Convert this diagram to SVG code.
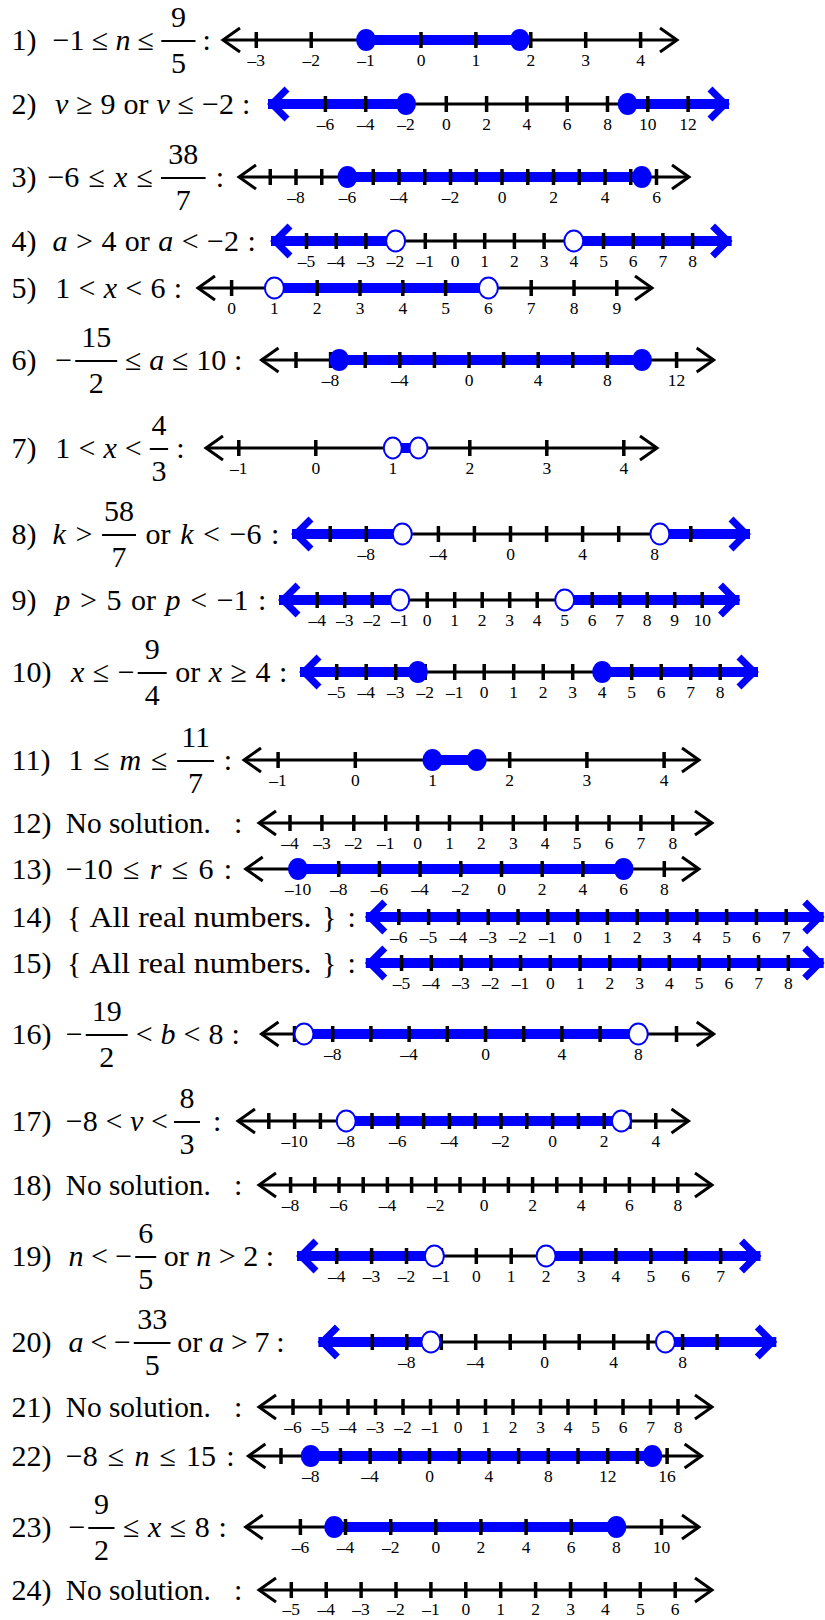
<svg xmlns="http://www.w3.org/2000/svg" width="825" height="1620" viewBox="0 0 825 1620" font-family="Liberation Serif, DejaVu Serif, serif">
<style>
.t{font-family:'Liberation Serif','DejaVu Serif',serif;font-size:30px;fill:#000}
.i{font-style:italic}
.m{text-anchor:middle}
.lb{font-family:'Liberation Serif','DejaVu Serif',serif;font-size:17.5px;fill:#000;text-anchor:middle}
.ax{stroke:#000;stroke-width:3;fill:none}
.tk{stroke:#000;stroke-width:3.5;fill:none}
.ah{stroke:#000;stroke-width:3;fill:none}
.bl{stroke:#0000ff;stroke-width:10;fill:none}
.ba{stroke:#0000ff;stroke-width:7;fill:none;stroke-linejoin:miter}
.cd{fill:#0000ff}
.od{fill:#fff;stroke:#0000ff;stroke-width:2}
.fb{stroke:#000;stroke-width:2}
</style>
<rect width="825" height="1620" fill="#fff"/>

<g id="row1">
<text class="t" y="50"><tspan x="11.6">1)</tspan><tspan x="52.6">−1</tspan><tspan x="91.7">≤</tspan><tspan x="115.4" class="i">n</tspan><tspan x="137.6">≤</tspan><tspan x="202.6">:</tspan></text>
<line class="fb" x1="161.3" y1="41" x2="195.5" y2="41"/><text class="t m" x="178.4" y="27">9</text><text class="t m" x="178.4" y="73">5</text>
<path class="ax" d="M223 40H677"/>
<path class="bl" d="M366.1 40H519.8"/>
<path class="ah" d="M240 28L223 40L240 52M660 28L677 40L660 52"/>
<path class="tk" d="M256.3 32v16M311.2 32v16M366.1 32v16M421 32v16M475.9 32v16M530.8 32v16M585.7 32v16M640.6 32v16"/>
<ellipse class="cd" cx="366.1" cy="40" rx="10" ry="11"/><ellipse class="cd" cx="519.8" cy="40" rx="10" ry="11"/>
<text class="lb" y="66"><tspan x="256.3">–3</tspan><tspan x="311.2">–2</tspan><tspan x="366.1">–1</tspan><tspan x="421">0</tspan><tspan x="475.9">1</tspan><tspan x="530.8">2</tspan><tspan x="585.7">3</tspan><tspan x="640.6">4</tspan></text>
</g>

<g id="row2">
<text class="t" y="114"><tspan x="11.6">2)</tspan><tspan x="55" class="i">v</tspan><tspan x="76.2">≥</tspan><tspan x="100.6">9</tspan><tspan x="123.5">or</tspan><tspan x="156.4" class="i">v</tspan><tspan x="177.6">≤</tspan><tspan x="202">−2</tspan><tspan x="242">:</tspan></text>
<path class="ax" d="M269 104H728"/>
<path class="bl" d="M268 104H406M627.65 104H729"/>
<polyline class="ba" points="287,89 272,104 287,119"/><polyline class="ba" points="710,89 725,104 710,119"/>
<path class="tk" d="M325.4 96v16M365.7 96v16M406 96v16M446.3 96v16M486.6 96v16M526.9 96v16M567.2 96v16M607.5 96v16M647.8 96v16M688.1 96v16"/>
<ellipse class="cd" cx="406" cy="104" rx="10" ry="11"/><ellipse class="cd" cx="627.65" cy="104" rx="10" ry="11"/>
<text class="lb" y="130"><tspan x="325.4">–6</tspan><tspan x="365.7">–4</tspan><tspan x="406">–2</tspan><tspan x="446.3">0</tspan><tspan x="486.6">2</tspan><tspan x="526.9">4</tspan><tspan x="567.2">6</tspan><tspan x="607.5">8</tspan><tspan x="647.8">10</tspan><tspan x="688.1">12</tspan></text>
</g>

<g id="row3">
<text class="t" y="187"><tspan x="11.6">3)</tspan><tspan x="47.4">−6</tspan><tspan x="88.4">≤</tspan><tspan x="114" class="i">x</tspan><tspan x="136.4">≤</tspan><tspan x="215.8">:</tspan></text>
<line class="fb" x1="161" y1="178" x2="205.6" y2="178"/><text class="t m" x="183.3" y="164">38</text><text class="t m" x="183.3" y="210">7</text>
<path class="ax" d="M239 177H689"/>
<path class="bl" d="M347.5 177H641.8"/>
<path class="ah" d="M256 165L239 177L256 189M672 165L689 177L672 189"/>
<path class="tk" d="M270.25 169v16M296 169v16M321.75 169v16M347.5 169v16M373.25 169v16M399 169v16M424.75 169v16M450.5 169v16M476.25 169v16M502 169v16M527.75 169v16M553.5 169v16M579.25 169v16M605 169v16M630.75 169v16M656.5 169v16"/>
<ellipse class="cd" cx="347.5" cy="177" rx="10" ry="11"/><ellipse class="cd" cx="641.8" cy="177" rx="10" ry="11"/>
<text class="lb" y="203"><tspan x="296">–8</tspan><tspan x="347.5">–6</tspan><tspan x="399">–4</tspan><tspan x="450.5">–2</tspan><tspan x="502">0</tspan><tspan x="553.5">2</tspan><tspan x="605">4</tspan><tspan x="656.5">6</tspan></text>
</g>

<g id="row4">
<text class="t" y="251"><tspan x="11.6">4)</tspan><tspan x="52.6" class="i">a</tspan><tspan x="76">&gt;</tspan><tspan x="101.4">4</tspan><tspan x="124.8">or</tspan><tspan x="158.2" class="i">a</tspan><tspan x="181.7">&lt;</tspan><tspan x="207">−2</tspan><tspan x="247.4">:</tspan></text>
<path class="ax" d="M272 241H731"/>
<path class="bl" d="M271 241H395.6M573.8 241H731.6"/>
<polyline class="ba" points="290,226 275,241 290,256"/><polyline class="ba" points="712.6,226 727.6,241 712.6,256"/>
<path class="tk" d="M306.5 233v16M336.2 233v16M365.9 233v16M395.6 233v16M425.3 233v16M455 233v16M484.7 233v16M514.4 233v16M544.1 233v16M573.8 233v16M603.5 233v16M633.2 233v16M662.9 233v16M692.6 233v16"/>
<ellipse class="od" cx="395.6" cy="241" rx="9.5" ry="10.5"/><ellipse class="od" cx="573.8" cy="241" rx="9.5" ry="10.5"/>
<text class="lb" y="267"><tspan x="306.5">–5</tspan><tspan x="336.2">–4</tspan><tspan x="365.9">–3</tspan><tspan x="395.6">–2</tspan><tspan x="425.3">–1</tspan><tspan x="455">0</tspan><tspan x="484.7">1</tspan><tspan x="514.4">2</tspan><tspan x="544.1">3</tspan><tspan x="573.8">4</tspan><tspan x="603.5">5</tspan><tspan x="633.2">6</tspan><tspan x="662.9">7</tspan><tspan x="692.6">8</tspan></text>
</g>

<g id="row5">
<text class="t" y="298"><tspan x="11.6">5)</tspan><tspan x="55.3">1</tspan><tspan x="78.6">&lt;</tspan><tspan x="103.7" class="i">x</tspan><tspan x="125.3">&lt;</tspan><tspan x="150.5">6</tspan><tspan x="173.7">:</tspan></text>
<path class="ax" d="M198 288H652"/>
<path class="bl" d="M274.4 288H488.4"/>
<path class="ah" d="M215 276L198 288L215 300M635 276L652 288L635 300"/>
<path class="tk" d="M231.6 280v16M274.4 280v16M317.2 280v16M360 280v16M402.8 280v16M445.6 280v16M488.4 280v16M531.2 280v16M574 280v16M616.8 280v16"/>
<ellipse class="od" cx="274.4" cy="288" rx="9.5" ry="10.5"/><ellipse class="od" cx="488.4" cy="288" rx="9.5" ry="10.5"/>
<text class="lb" y="314"><tspan x="231.6">0</tspan><tspan x="274.4">1</tspan><tspan x="317.2">2</tspan><tspan x="360">3</tspan><tspan x="402.8">4</tspan><tspan x="445.6">5</tspan><tspan x="488.4">6</tspan><tspan x="531.2">7</tspan><tspan x="574">8</tspan><tspan x="616.8">9</tspan></text>
</g>

<g id="row6">
<text class="t" y="370"><tspan x="11.6">6)</tspan><tspan x="55.3">−</tspan><tspan x="125">≤</tspan><tspan x="149.2" class="i">a</tspan><tspan x="172">≤</tspan><tspan x="196.3">10</tspan><tspan x="234">:</tspan></text>
<line class="fb" x1="75.2" y1="361" x2="117.2" y2="361"/><text class="t m" x="96.2" y="347">15</text><text class="t m" x="96.2" y="393">2</text>
<path class="ax" d="M261.5 360H713.7"/>
<path class="bl" d="M339.25 360H642"/>
<path class="ah" d="M278.5 348L261.5 360L278.5 372M696.7 348L713.7 360L696.7 372"/>
<path class="tk" d="M296 352v16M330.6 352v16M365.2 352v16M399.8 352v16M434.4 352v16M469 352v16M503.6 352v16M538.2 352v16M572.8 352v16M607.4 352v16M642 352v16M676.6 352v16"/>
<ellipse class="cd" cx="339.25" cy="360" rx="10" ry="11"/><ellipse class="cd" cx="642" cy="360" rx="10" ry="11"/>
<text class="lb" y="386"><tspan x="330.6">–8</tspan><tspan x="399.8">–4</tspan><tspan x="469">0</tspan><tspan x="538.2">4</tspan><tspan x="607.4">8</tspan><tspan x="676.6">12</tspan></text>
</g>

<g id="row7">
<text class="t" y="458"><tspan x="11.6">7)</tspan><tspan x="55.3">1</tspan><tspan x="78.4">&lt;</tspan><tspan x="103.4" class="i">x</tspan><tspan x="124.8">&lt;</tspan><tspan x="176.3">:</tspan></text>
<line class="fb" x1="149.8" y1="449" x2="168.1" y2="449"/><text class="t m" x="159" y="435">4</text><text class="t m" x="159" y="481">3</text>
<path class="ax" d="M206 448H657"/>
<path class="bl" d="M392.8 448H418.5"/>
<path class="ah" d="M223 436L206 448L223 460M640 436L657 448L640 460"/>
<path class="tk" d="M238.8 440v16M315.8 440v16M392.8 440v16M469.8 440v16M546.8 440v16M623.8 440v16"/>
<ellipse class="od" cx="392.8" cy="448" rx="9" ry="10.5"/><ellipse class="od" cx="418.5" cy="448" rx="9" ry="10.5"/>
<text class="lb" y="474"><tspan x="238.8">–1</tspan><tspan x="315.8">0</tspan><tspan x="392.8">1</tspan><tspan x="469.8">2</tspan><tspan x="546.8">3</tspan><tspan x="623.8">4</tspan></text>
</g>

<g id="row8">
<text class="t" y="544"><tspan x="11.6">8)</tspan><tspan x="52.6" class="i">k</tspan><tspan x="75.5">&gt;</tspan><tspan x="145.6">or</tspan><tspan x="180.2" class="i">k</tspan><tspan x="203.1">&lt;</tspan><tspan x="229.6">−6</tspan><tspan x="271">:</tspan></text>
<line class="fb" x1="102" y1="535" x2="136" y2="535"/><text class="t m" x="119" y="521">58</text><text class="t m" x="119" y="567">7</text>
<path class="ax" d="M293 534H749"/>
<path class="bl" d="M292 534H402.3M659.9 534H750"/>
<polyline class="ba" points="311,519 296,534 311,549"/><polyline class="ba" points="731,519 746,534 731,549"/>
<path class="tk" d="M330.2 526v16M366.3 526v16M402.3 526v16M438.4 526v16M474.4 526v16M510.5 526v16M546.6 526v16M582.6 526v16M618.7 526v16M654.7 526v16M690.8 526v16"/>
<ellipse class="od" cx="402.3" cy="534" rx="9.5" ry="10.5"/><ellipse class="od" cx="659.9" cy="534" rx="9.5" ry="10.5"/>
<text class="lb" y="560"><tspan x="366.3">–8</tspan><tspan x="438.4">–4</tspan><tspan x="510.5">0</tspan><tspan x="582.6">4</tspan><tspan x="654.7">8</tspan></text>
</g>

<g id="row9">
<text class="t" y="610"><tspan x="11.6">9)</tspan><tspan x="55.3" class="i">p</tspan><tspan x="79.9">&gt;</tspan><tspan x="106.4">5</tspan><tspan x="131">or</tspan><tspan x="165.6" class="i">p</tspan><tspan x="190.2">&lt;</tspan><tspan x="216.7">−1</tspan><tspan x="258">:</tspan></text>
<path class="ax" d="M280 600H738.5"/>
<path class="bl" d="M279 600H399.7M564.7 600H739.5"/>
<polyline class="ba" points="298,585 283,600 298,615"/><polyline class="ba" points="720.5,585 735.5,600 720.5,615"/>
<path class="tk" d="M317.2 592v16M344.7 592v16M372.2 592v16M399.7 592v16M427.2 592v16M454.7 592v16M482.2 592v16M509.7 592v16M537.2 592v16M564.7 592v16M592.2 592v16M619.7 592v16M647.2 592v16M674.7 592v16M702.2 592v16"/>
<ellipse class="od" cx="399.7" cy="600" rx="9.5" ry="10.5"/><ellipse class="od" cx="564.7" cy="600" rx="9.5" ry="10.5"/>
<text class="lb" y="626"><tspan x="317.2">–4</tspan><tspan x="344.7">–3</tspan><tspan x="372.2">–2</tspan><tspan x="399.7">–1</tspan><tspan x="427.2">0</tspan><tspan x="454.7">1</tspan><tspan x="482.2">2</tspan><tspan x="509.7">3</tspan><tspan x="537.2">4</tspan><tspan x="564.7">5</tspan><tspan x="592.2">6</tspan><tspan x="619.7">7</tspan><tspan x="647.2">8</tspan><tspan x="674.7">9</tspan><tspan x="702.2">10</tspan></text>
</g>

<g id="row10">
<text class="t" y="682"><tspan x="11.6">10)</tspan><tspan x="71" class="i">x</tspan><tspan x="92.8">≤</tspan><tspan x="117.8">−</tspan><tspan x="175.2">or</tspan><tspan x="208.7" class="i">x</tspan><tspan x="230.5">≥</tspan><tspan x="255.5">4</tspan><tspan x="279">:</tspan></text>
<line class="fb" x1="137.7" y1="673" x2="166.7" y2="673"/><text class="t m" x="152.2" y="659">9</text><text class="t m" x="152.2" y="705">4</text>
<path class="ax" d="M301 672H757"/>
<path class="bl" d="M300 672H417.8M602.2 672H758"/>
<polyline class="ba" points="319,657 304,672 319,687"/><polyline class="ba" points="739,657 754,672 739,687"/>
<path class="tk" d="M336.7 664v16M366.2 664v16M395.7 664v16M425.2 664v16M454.7 664v16M484.2 664v16M513.7 664v16M543.2 664v16M572.7 664v16M602.2 664v16M631.7 664v16M661.2 664v16M690.7 664v16M720.2 664v16"/>
<ellipse class="cd" cx="417.8" cy="672" rx="10" ry="11"/><ellipse class="cd" cx="602.2" cy="672" rx="10" ry="11"/>
<text class="lb" y="698"><tspan x="336.7">–5</tspan><tspan x="366.2">–4</tspan><tspan x="395.7">–3</tspan><tspan x="425.2">–2</tspan><tspan x="454.7">–1</tspan><tspan x="484.2">0</tspan><tspan x="513.7">1</tspan><tspan x="543.2">2</tspan><tspan x="572.7">3</tspan><tspan x="602.2">4</tspan><tspan x="631.7">5</tspan><tspan x="661.2">6</tspan><tspan x="690.7">7</tspan><tspan x="720.2">8</tspan></text>
</g>

<g id="row11">
<text class="t" y="770"><tspan x="11.6">11)</tspan><tspan x="68.4">1</tspan><tspan x="93.2">≤</tspan><tspan x="119.4" class="i">m</tspan><tspan x="150.9">≤</tspan><tspan x="223.7">:</tspan></text>
<line class="fb" x1="177.2" y1="761" x2="214" y2="761"/><text class="t m" x="195.6" y="747">11</text><text class="t m" x="195.6" y="793">7</text>
<path class="ax" d="M244 760H699"/>
<path class="bl" d="M432.5 760H476.6"/>
<path class="ah" d="M261 748L244 760L261 772M682 748L699 760L682 772"/>
<path class="tk" d="M278.1 752v16M355.3 752v16M432.5 752v16M509.7 752v16M586.9 752v16M664.1 752v16"/>
<ellipse class="cd" cx="432.5" cy="760" rx="10" ry="11"/><ellipse class="cd" cx="476.6" cy="760" rx="10" ry="11"/>
<text class="lb" y="786"><tspan x="278.1">–1</tspan><tspan x="355.3">0</tspan><tspan x="432.5">1</tspan><tspan x="509.7">2</tspan><tspan x="586.9">3</tspan><tspan x="664.1">4</tspan></text>
</g>

<g id="row12">
<text class="t" y="833"><tspan x="11.6">12)</tspan></text><text class="t" x="65.8" y="833" textLength="145" lengthAdjust="spacingAndGlyphs">No solution.</text><text class="t" x="234" y="833">:</text>
<path class="ax" d="M259 823H712"/>
<path class="ah" d="M276 811L259 823L276 835M695 811L712 823L695 835"/>
<path class="tk" d="M290 815v16M321.9 815v16M353.8 815v16M385.7 815v16M417.6 815v16M449.5 815v16M481.4 815v16M513.3 815v16M545.2 815v16M577.1 815v16M609 815v16M640.9 815v16M672.8 815v16"/>
<text class="lb" y="849"><tspan x="290">–4</tspan><tspan x="321.9">–3</tspan><tspan x="353.8">–2</tspan><tspan x="385.7">–1</tspan><tspan x="417.6">0</tspan><tspan x="449.5">1</tspan><tspan x="481.4">2</tspan><tspan x="513.3">3</tspan><tspan x="545.2">4</tspan><tspan x="577.1">5</tspan><tspan x="609">6</tspan><tspan x="640.9">7</tspan><tspan x="672.8">8</tspan></text>
</g>

<g id="row13">
<text class="t" y="879"><tspan x="11.6">13)</tspan><tspan x="65.8">−10</tspan><tspan x="123">≤</tspan><tspan x="149.8" class="i">r</tspan><tspan x="171.7">≤</tspan><tspan x="198.5">6</tspan><tspan x="223.7">:</tspan></text>
<path class="ax" d="M245.7 869H699"/>
<path class="bl" d="M298 869H623.6"/>
<path class="ah" d="M262.7 857L245.7 869L262.7 881M682 857L699 869L682 881"/>
<path class="tk" d="M298 861v16M338.7 861v16M379.4 861v16M420.1 861v16M460.8 861v16M501.5 861v16M542.2 861v16M582.9 861v16M623.6 861v16M664.3 861v16"/>
<ellipse class="cd" cx="298" cy="869" rx="10" ry="11"/><ellipse class="cd" cx="623.6" cy="869" rx="10" ry="11"/>
<text class="lb" y="895"><tspan x="298">–10</tspan><tspan x="338.7">–8</tspan><tspan x="379.4">–6</tspan><tspan x="420.1">–4</tspan><tspan x="460.8">–2</tspan><tspan x="501.5">0</tspan><tspan x="542.2">2</tspan><tspan x="582.9">4</tspan><tspan x="623.6">6</tspan><tspan x="664.3">8</tspan></text>
</g>

<g id="row14">
<text class="t" y="927"><tspan x="11.6">14)</tspan><tspan x="67">{</tspan></text><text class="t" x="89.5" y="927" textLength="222" lengthAdjust="spacingAndGlyphs">All real numbers.</text><text class="t" y="927"><tspan x="322">}</tspan><tspan x="347.4">:</tspan></text>
<path class="bl" d="M365.8 917H823.7"/>
<polyline class="ba" points="384.8,902 369.8,917 384.8,932"/><polyline class="ba" points="804.7,902 819.7,917 804.7,932"/>
<path class="tk" d="M398.8 909v16M428.6 909v16M458.4 909v16M488.2 909v16M518 909v16M547.8 909v16M577.6 909v16M607.4 909v16M637.2 909v16M667 909v16M696.8 909v16M726.6 909v16M756.4 909v16M786.2 909v16"/>
<text class="lb" y="943"><tspan x="398.8">–6</tspan><tspan x="428.6">–5</tspan><tspan x="458.4">–4</tspan><tspan x="488.2">–3</tspan><tspan x="518">–2</tspan><tspan x="547.8">–1</tspan><tspan x="577.6">0</tspan><tspan x="607.4">1</tspan><tspan x="637.2">2</tspan><tspan x="667">3</tspan><tspan x="696.8">4</tspan><tspan x="726.6">5</tspan><tspan x="756.4">6</tspan><tspan x="786.2">7</tspan></text>
</g>

<g id="row15">
<text class="t" y="973"><tspan x="11.6">15)</tspan><tspan x="67">{</tspan></text><text class="t" x="89.5" y="973" textLength="222" lengthAdjust="spacingAndGlyphs">All real numbers.</text><text class="t" y="973"><tspan x="322">}</tspan><tspan x="347.4">:</tspan></text>
<path class="bl" d="M365.8 963H823.7"/>
<polyline class="ba" points="384.8,948 369.8,963 384.8,978"/><polyline class="ba" points="804.7,948 819.7,963 804.7,978"/>
<path class="tk" d="M401.55 955v16M431.3 955v16M461.05 955v16M490.8 955v16M520.55 955v16M550.3 955v16M580.05 955v16M609.8 955v16M639.55 955v16M669.3 955v16M699.05 955v16M728.8 955v16M758.55 955v16M788.3 955v16"/>
<text class="lb" y="989"><tspan x="401.55">–5</tspan><tspan x="431.3">–4</tspan><tspan x="461.05">–3</tspan><tspan x="490.8">–2</tspan><tspan x="520.55">–1</tspan><tspan x="550.3">0</tspan><tspan x="580.05">1</tspan><tspan x="609.8">2</tspan><tspan x="639.55">3</tspan><tspan x="669.3">4</tspan><tspan x="699.05">5</tspan><tspan x="728.8">6</tspan><tspan x="758.55">7</tspan><tspan x="788.3">8</tspan></text>
</g>

<g id="row16">
<text class="t" y="1044"><tspan x="11.6">16)</tspan><tspan x="65.8">−</tspan><tspan x="135.7">&lt;</tspan><tspan x="160.6" class="i">b</tspan><tspan x="183.6">&lt;</tspan><tspan x="208.5">8</tspan><tspan x="231.6">:</tspan></text>
<line class="fb" x1="85.7" y1="1035" x2="127.7" y2="1035"/><text class="t m" x="106.7" y="1021">19</text><text class="t m" x="106.7" y="1067">2</text>
<path class="ax" d="M261.5 1034H713.7"/>
<path class="bl" d="M304 1034H638.3"/>
<path class="ah" d="M278.5 1022L261.5 1034L278.5 1046M696.7 1022L713.7 1034L696.7 1046"/>
<path class="tk" d="M294.5 1026v16M332.7 1026v16M370.9 1026v16M409.1 1026v16M447.3 1026v16M485.5 1026v16M523.7 1026v16M561.9 1026v16M600.1 1026v16M638.3 1026v16M676.5 1026v16"/>
<ellipse class="od" cx="304" cy="1034" rx="9.5" ry="10.5"/><ellipse class="od" cx="638.3" cy="1034" rx="9.5" ry="10.5"/>
<text class="lb" y="1060"><tspan x="332.7">–8</tspan><tspan x="409.1">–4</tspan><tspan x="485.5">0</tspan><tspan x="561.9">4</tspan><tspan x="638.3">8</tspan></text>
</g>

<g id="row17">
<text class="t" y="1131"><tspan x="11.6">17)</tspan><tspan x="65.8">−8</tspan><tspan x="105.5">&lt;</tspan><tspan x="130" class="i">v</tspan><tspan x="151">&lt;</tspan><tspan x="213">:</tspan></text>
<line class="fb" x1="174" y1="1122" x2="200" y2="1122"/><text class="t m" x="187" y="1108">8</text><text class="t m" x="187" y="1154">3</text>
<path class="ax" d="M238 1121H688.5"/>
<path class="bl" d="M346.2 1121H621.4"/>
<path class="ah" d="M255 1109L238 1121L255 1133M671.5 1109L688.5 1121L671.5 1133"/>
<path class="tk" d="M268.8 1113v16M294.6 1113v16M320.4 1113v16M346.2 1113v16M372 1113v16M397.8 1113v16M423.6 1113v16M449.4 1113v16M475.2 1113v16M501 1113v16M526.8 1113v16M552.6 1113v16M578.4 1113v16M604.2 1113v16M630 1113v16M655.8 1113v16"/>
<ellipse class="od" cx="346.2" cy="1121" rx="9.5" ry="10.5"/><ellipse class="od" cx="621.4" cy="1121" rx="9.5" ry="10.5"/>
<text class="lb" y="1147"><tspan x="294.6">–10</tspan><tspan x="346.2">–8</tspan><tspan x="397.8">–6</tspan><tspan x="449.4">–4</tspan><tspan x="501">–2</tspan><tspan x="552.6">0</tspan><tspan x="604.2">2</tspan><tspan x="655.8">4</tspan></text>
</g>

<g id="row18">
<text class="t" y="1195"><tspan x="11.6">18)</tspan></text><text class="t" x="65.8" y="1195" textLength="145" lengthAdjust="spacingAndGlyphs">No solution.</text><text class="t" x="234" y="1195">:</text>
<path class="ax" d="M259 1185H712"/>
<path class="ah" d="M276 1173L259 1185L276 1197M695 1173L712 1185L695 1197"/>
<path class="tk" d="M290.6 1177v16M314.8 1177v16M339 1177v16M363.2 1177v16M387.4 1177v16M411.6 1177v16M435.8 1177v16M460 1177v16M484.2 1177v16M508.4 1177v16M532.6 1177v16M556.8 1177v16M581 1177v16M605.2 1177v16M629.4 1177v16M653.6 1177v16M677.8 1177v16"/>
<text class="lb" y="1211"><tspan x="290.6">–8</tspan><tspan x="339">–6</tspan><tspan x="387.4">–4</tspan><tspan x="435.8">–2</tspan><tspan x="484.2">0</tspan><tspan x="532.6">2</tspan><tspan x="581">4</tspan><tspan x="629.4">6</tspan><tspan x="677.8">8</tspan></text>
</g>

<g id="row19">
<text class="t" y="1266"><tspan x="11.6">19)</tspan><tspan x="68.4" class="i">n</tspan><tspan x="90.9">&lt;</tspan><tspan x="115.3">−</tspan><tspan x="163.7">or</tspan><tspan x="196.2" class="i">n</tspan><tspan x="218.7">&gt;</tspan><tspan x="243.2">2</tspan><tspan x="265.8">:</tspan></text>
<line class="fb" x1="135.2" y1="1257" x2="156.2" y2="1257"/><text class="t m" x="145.7" y="1243">6</text><text class="t m" x="145.7" y="1289">5</text>
<path class="ax" d="M298 1256H759.5"/>
<path class="bl" d="M297 1256H434.4M546.1 1256H760.5"/>
<polyline class="ba" points="316,1241 301,1256 316,1271"/><polyline class="ba" points="741.5,1241 756.5,1256 741.5,1271"/>
<path class="tk" d="M336.7 1248v16M371.6 1248v16M406.5 1248v16M441.4 1248v16M476.3 1248v16M511.2 1248v16M546.1 1248v16M581 1248v16M615.9 1248v16M650.8 1248v16M685.7 1248v16M720.6 1248v16"/>
<ellipse class="od" cx="434.4" cy="1256" rx="9.5" ry="10.5"/><ellipse class="od" cx="546.1" cy="1256" rx="9.5" ry="10.5"/>
<text class="lb" y="1282"><tspan x="336.7">–4</tspan><tspan x="371.6">–3</tspan><tspan x="406.5">–2</tspan><tspan x="441.4">–1</tspan><tspan x="476.3">0</tspan><tspan x="511.2">1</tspan><tspan x="546.1">2</tspan><tspan x="581">3</tspan><tspan x="615.9">4</tspan><tspan x="650.8">5</tspan><tspan x="685.7">6</tspan><tspan x="720.6">7</tspan></text>
</g>

<g id="row20">
<text class="t" y="1352"><tspan x="11.6">20)</tspan><tspan x="68.4" class="i">a</tspan><tspan x="90.2">&lt;</tspan><tspan x="113.9">−</tspan><tspan x="177.3">or</tspan><tspan x="209.1" class="i">a</tspan><tspan x="230.9">&gt;</tspan><tspan x="254.6">7</tspan><tspan x="276.3">:</tspan></text>
<line class="fb" x1="133.8" y1="1343" x2="170.5" y2="1343"/><text class="t m" x="152.2" y="1329">33</text><text class="t m" x="152.2" y="1375">5</text>
<path class="ax" d="M319.4 1342H775.3"/>
<path class="bl" d="M318.4 1342H430.9M665.4 1342H776.3"/>
<polyline class="ba" points="337.4,1327 322.4,1342 337.4,1357"/><polyline class="ba" points="757.3,1327 772.3,1342 757.3,1357"/>
<path class="tk" d="M372.3 1334v16M406.8 1334v16M441.3 1334v16M475.7 1334v16M510.2 1334v16M544.7 1334v16M579.2 1334v16M613.7 1334v16M648.1 1334v16M682.6 1334v16M717.1 1334v16"/>
<ellipse class="od" cx="430.9" cy="1342" rx="9.5" ry="10.5"/><ellipse class="od" cx="665.4" cy="1342" rx="9.5" ry="10.5"/>
<text class="lb" y="1368"><tspan x="406.8">–8</tspan><tspan x="475.7">–4</tspan><tspan x="544.7">0</tspan><tspan x="613.7">4</tspan><tspan x="682.6">8</tspan></text>
</g>

<g id="row21">
<text class="t" y="1417"><tspan x="11.6">21)</tspan></text><text class="t" x="65.8" y="1417" textLength="145" lengthAdjust="spacingAndGlyphs">No solution.</text><text class="t" x="234" y="1417">:</text>
<path class="ax" d="M259 1407H712"/>
<path class="ah" d="M276 1395L259 1407L276 1419M695 1395L712 1407L695 1419"/>
<path class="tk" d="M293 1399v16M320.5 1399v16M348 1399v16M375.5 1399v16M403 1399v16M430.5 1399v16M458 1399v16M485.5 1399v16M513 1399v16M540.5 1399v16M568 1399v16M595.5 1399v16M623 1399v16M650.5 1399v16M678 1399v16"/>
<text class="lb" y="1433"><tspan x="293">–6</tspan><tspan x="320.5">–5</tspan><tspan x="348">–4</tspan><tspan x="375.5">–3</tspan><tspan x="403">–2</tspan><tspan x="430.5">–1</tspan><tspan x="458">0</tspan><tspan x="485.5">1</tspan><tspan x="513">2</tspan><tspan x="540.5">3</tspan><tspan x="568">4</tspan><tspan x="595.5">5</tspan><tspan x="623">6</tspan><tspan x="650.5">7</tspan><tspan x="678">8</tspan></text>
</g>

<g id="row22">
<text class="t" y="1466"><tspan x="11.6">22)</tspan><tspan x="65.8">−8</tspan><tspan x="107.8">≤</tspan><tspan x="134.4" class="i">n</tspan><tspan x="159.5">≤</tspan><tspan x="186.1">15</tspan><tspan x="226.3">:</tspan></text>
<path class="ax" d="M248.4 1456H701.6"/>
<path class="bl" d="M310.7 1456H652.3"/>
<path class="ah" d="M265.4 1444L248.4 1456L265.4 1468M684.6 1444L701.6 1456L684.6 1468"/>
<path class="tk" d="M281 1448v16M310.7 1448v16M340.4 1448v16M370.1 1448v16M399.8 1448v16M429.5 1448v16M459.2 1448v16M488.9 1448v16M518.6 1448v16M548.3 1448v16M578 1448v16M607.7 1448v16M637.4 1448v16M667.1 1448v16"/>
<ellipse class="cd" cx="310.7" cy="1456" rx="10" ry="11"/><ellipse class="cd" cx="652.3" cy="1456" rx="10" ry="11"/>
<text class="lb" y="1482"><tspan x="310.7">–8</tspan><tspan x="370.1">–4</tspan><tspan x="429.5">0</tspan><tspan x="488.9">4</tspan><tspan x="548.3">8</tspan><tspan x="607.7">12</tspan><tspan x="667.1">16</tspan></text>
</g>

<g id="row23">
<text class="t" y="1537"><tspan x="11.6">23)</tspan><tspan x="68.4">−</tspan><tspan x="123">≤</tspan><tspan x="148" class="i">x</tspan><tspan x="169.8">≤</tspan><tspan x="194.8">8</tspan><tspan x="218.4">:</tspan></text>
<line class="fb" x1="88.3" y1="1528" x2="114.5" y2="1528"/><text class="t m" x="101.4" y="1514">9</text><text class="t m" x="101.4" y="1560">2</text>
<path class="ax" d="M245.7 1527H699"/>
<path class="bl" d="M334.2 1527H616.4"/>
<path class="ah" d="M262.7 1515L245.7 1527L262.7 1539M682 1515L699 1527L682 1539"/>
<path class="tk" d="M300.4 1519v16M345.5 1519v16M390.7 1519v16M435.8 1519v16M480.9 1519v16M526.1 1519v16M571.2 1519v16M616.4 1519v16M661.5 1519v16"/>
<ellipse class="cd" cx="334.2" cy="1527" rx="10" ry="11"/><ellipse class="cd" cx="616.4" cy="1527" rx="10" ry="11"/>
<text class="lb" y="1553"><tspan x="300.4">–6</tspan><tspan x="345.5">–4</tspan><tspan x="390.7">–2</tspan><tspan x="435.8">0</tspan><tspan x="480.9">2</tspan><tspan x="526.1">4</tspan><tspan x="571.2">6</tspan><tspan x="616.4">8</tspan><tspan x="661.5">10</tspan></text>
</g>

<g id="row24">
<text class="t" y="1600"><tspan x="11.6">24)</tspan></text><text class="t" x="65.8" y="1600" textLength="145" lengthAdjust="spacingAndGlyphs">No solution.</text><text class="t" x="234" y="1600">:</text>
<path class="ax" d="M259 1590H712"/>
<path class="ah" d="M276 1578L259 1590L276 1602M695 1578L712 1590L695 1602"/>
<path class="tk" d="M291.3 1582v16M326.2 1582v16M361.1 1582v16M396 1582v16M430.9 1582v16M465.8 1582v16M500.7 1582v16M535.6 1582v16M570.5 1582v16M605.4 1582v16M640.3 1582v16M675.2 1582v16"/>
<text class="lb" y="1615"><tspan x="291.3">–5</tspan><tspan x="326.2">–4</tspan><tspan x="361.1">–3</tspan><tspan x="396">–2</tspan><tspan x="430.9">–1</tspan><tspan x="465.8">0</tspan><tspan x="500.7">1</tspan><tspan x="535.6">2</tspan><tspan x="570.5">3</tspan><tspan x="605.4">4</tspan><tspan x="640.3">5</tspan><tspan x="675.2">6</tspan></text>
</g>
</svg>
